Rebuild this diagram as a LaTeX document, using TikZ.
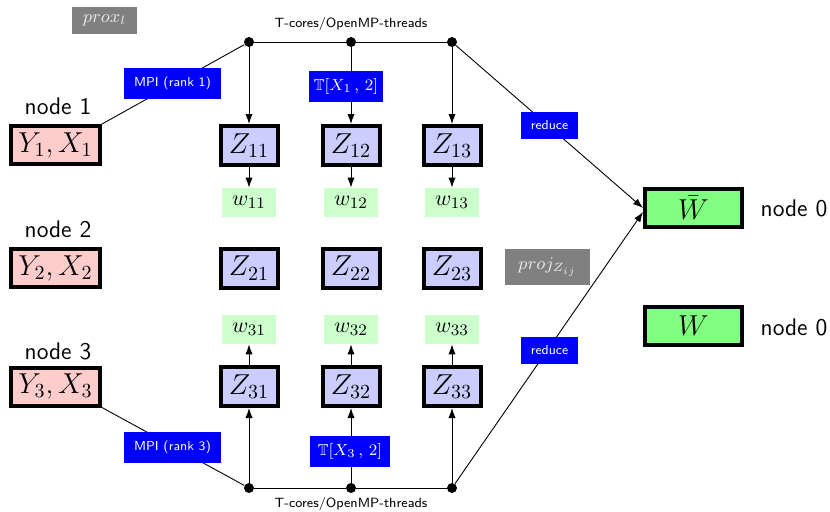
\documentclass[tikz,border=0pt]{standalone}
\usepackage{amssymb}
\usetikzlibrary{arrows.meta}
\begin{document}
\begin{tikzpicture}[x=0.5pt,y=-0.5pt,
  thickbox/.style={draw=black,line width=2pt,inner sep=0pt,font=\fontsize{14.5}{16}\selectfont},
  ybox/.style={thickbox,fill=red!20,minimum width=44.5pt,minimum height=19pt},
  zbox/.style={thickbox,fill=blue!20,minimum width=28.5pt,minimum height=19.5pt},
  wbigbox/.style={thickbox,fill=green!50,minimum width=48.5pt,minimum height=19pt},
  wbox/.style={fill=green!20,inner sep=0pt,minimum width=27pt,minimum height=14.5pt,font=\fontsize{11}{13}\selectfont},
  bluelab/.style={fill=blue,text=white,inner sep=0pt,font=\sffamily\fontsize{6.5}{8}\selectfont},
  graylab/.style={fill=gray,text=white!85!gray,inner sep=0pt,font=\fontsize{9}{10}\selectfont},
  nodelab/.style={font=\sffamily\fontsize{12}{14}\selectfont},
  smalltext/.style={font=\sffamily\fontsize{6.7}{8}\selectfont},
  dotnode/.style={circle,fill=black,inner sep=0pt,minimum size=5pt},
  arr/.style={-{Latex[length=5pt,width=3.6pt]},line width=0.45pt},
  conn/.style={line width=0.45pt}]
\useasboundingbox (0,0) rectangle (830,511);

% left nodes
\node[ybox] (Y1) at (55.5,145) {$Y_1,X_1$};
\node[ybox] (Y2) at (55.5,268) {$Y_2,X_2$};
\node[ybox] (Y3) at (55.5,386.5) {$Y_3,X_3$};
\node[nodelab] (n1) at (58,106) {node 1};
\node[nodelab] (n2) at (58,229) {node 2};
\node[nodelab] (n3) at (58,351) {node 3};

% gray labels
\node[graylab,minimum width=32.5pt,minimum height=13.5pt] (prox) at (104.5,20.5) {$prox_l$};
\node[graylab,minimum width=42.5pt,minimum height=18pt] (proj) at (547.5,267) {$proj_{Z_{ij}}$};

% dots
\node[dotnode] (t1) at (249,42) {};
\node[dotnode] (t2) at (351,42) {};
\node[dotnode] (t3) at (452,42) {};
\node[dotnode] (b1) at (249,488) {};
\node[dotnode] (b2) at (351,488) {};
\node[dotnode] (b3) at (452,488) {};
\node[smalltext] (ttop) at (351,24) {T-cores/OpenMP-threads};
\node[smalltext] (tbot) at (351,504) {T-cores/OpenMP-threads};

% Z grid
\foreach \c/\x in {1/249,2/351,3/452}{
  \node[zbox] (Z1\c) at (\x,145.5) {$Z_{1\c}$};
  \node[zbox] (Z2\c) at (\x,268) {$Z_{2\c}$};
  \node[zbox] (Z3\c) at (\x,386.5) {$Z_{3\c}$};
  \node[wbox] (w1\c) at (\x,202.5) {$w_{1\c}$};
  \node[wbox] (w3\c) at (\x,329.5) {$w_{3\c}$};
}

% W nodes
\node[wbigbox] (Wb) at (693.5,208) {$\bar{W}$};
\node[wbigbox] (W) at (693.5,325.5) {$W$};
\node[nodelab] (n0a) at (794,208) {node 0};
\node[nodelab] (n0b) at (794,327) {node 0};

% connectors
\draw[conn] (t1) -- (t2) -- (t3);
\draw[conn] (b1) -- (b2) -- (b3);
\draw[conn] (Y1.north east) -- (t1);
\draw[conn] (Y3.south east) -- (b1);
\foreach \c in {1,2,3}{
  \draw[arr] (t\c) -- (Z1\c.north);
  \draw[arr] (b\c) -- (Z3\c.south);
  \draw[arr] (Z1\c.south) -- (w1\c.north);
  \draw[arr] (Z3\c.north) -- (w3\c.south);
}
\draw[arr] (t3) -- (Wb.west);
\draw[arr] (b3) -- ([yshift=-2pt]Wb.west);

% blue labels
\node[bluelab,minimum width=48.5pt,minimum height=15.5pt] (mpi1) at (172.5,83.5) {MPI (rank 1)};
\node[bluelab,minimum width=48.5pt,minimum height=15.5pt] (mpi3) at (172.5,447.5) {MPI (rank 3)};
\node[bluelab,minimum width=37pt,minimum height=15.5pt,font=\fontsize{8}{10}\selectfont] (tx1) at (346,86) {$\mathbb{T}[X_1\,,\,2]$};
\node[bluelab,minimum width=40pt,minimum height=15.5pt,font=\fontsize{8}{10}\selectfont] (tx3) at (350,451.5) {$\mathbb{T}[X_3\,,\,2]$};
\node[bluelab,minimum width=28.5pt,minimum height=13.5pt] (red1) at (549.5,125.5) {reduce};
\node[bluelab,minimum width=28.5pt,minimum height=13.5pt] (red2) at (549.5,350) {reduce};
\end{tikzpicture}
\end{document}
